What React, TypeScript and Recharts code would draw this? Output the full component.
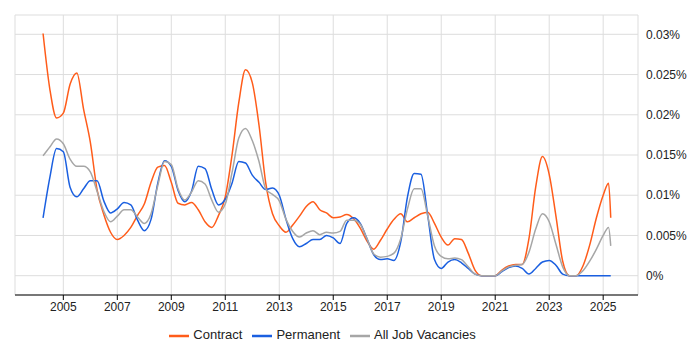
import { LineChart, Line, XAxis, YAxis, CartesianGrid, Legend } from 'recharts';

// quarterly points (fractional year), with a couple of extra points at the end
const periods = [
  2004.25, 2004.5, 2004.75, 2005, 2005.25, 2005.5, 2005.75, 2006, 2006.25, 2006.5, 2006.75,
  2007, 2007.25, 2007.5, 2007.75, 2008, 2008.25, 2008.5, 2008.75, 2009, 2009.25, 2009.5, 2009.75,
  2010, 2010.25, 2010.5, 2010.75, 2011, 2011.25, 2011.5, 2011.75, 2012, 2012.25, 2012.5, 2012.75,
  2013, 2013.25, 2013.5, 2013.75, 2014, 2014.25, 2014.5, 2014.75, 2015, 2015.25, 2015.5, 2015.75,
  2016, 2016.25, 2016.5, 2016.75, 2017, 2017.25, 2017.5, 2017.75, 2018, 2018.25, 2018.5, 2018.75,
  2019, 2019.25, 2019.5, 2019.75, 2020, 2020.25, 2020.5, 2020.75, 2021, 2021.25, 2021.5, 2021.75,
  2022, 2022.25, 2022.5, 2022.75, 2023, 2023.25, 2023.5, 2023.75, 2024, 2024.25, 2024.5, 2024.75,
  2025, 2025.2, 2025.28,
];

// values in %
const contract = [
  0.0301, 0.0232, 0.0196, 0.0202, 0.0238, 0.0252, 0.0207, 0.0166, 0.0107, 0.0076, 0.0054,
  0.0045, 0.005, 0.006, 0.0075, 0.0089, 0.0116, 0.0135, 0.0137, 0.0116, 0.009, 0.0088, 0.0091,
  0.0082, 0.0067, 0.006, 0.0075, 0.0098, 0.015, 0.0215, 0.0256, 0.024, 0.0187, 0.0115, 0.0077,
  0.0062, 0.0054, 0.0063, 0.0074, 0.0086, 0.0092, 0.0082, 0.0078, 0.0072, 0.0073, 0.0076, 0.0071,
  0.0059, 0.0043, 0.0033, 0.0044, 0.0058, 0.007, 0.0077, 0.0067, 0.0072, 0.0077, 0.0079, 0.0065,
  0.0048, 0.0038, 0.0046, 0.0045, 0.0028, 0.0007, 0, 0, 0, 0.0007, 0.0012, 0.0014,
  0.0014, 0.0046, 0.011, 0.0148, 0.0126, 0.0074, 0.0018, 0, 0, 0.0012, 0.0038, 0.0072,
  0.01, 0.0115, 0.0072,
];

const permanent = [
  0.0072, 0.0122, 0.0158, 0.0154, 0.011, 0.0098, 0.0108, 0.0118, 0.0118, 0.0093, 0.0078,
  0.0083, 0.0091, 0.0088, 0.0069, 0.0056, 0.007, 0.0115, 0.0143, 0.0136, 0.0106, 0.0092, 0.0105,
  0.0136, 0.0133, 0.0107, 0.0088, 0.0095, 0.0115, 0.0142, 0.014, 0.0125, 0.0116, 0.0107, 0.0109,
  0.01, 0.007, 0.0046, 0.0036, 0.004, 0.0045, 0.0045, 0.005, 0.0047, 0.004, 0.0065, 0.0072,
  0.0065, 0.0046, 0.0026, 0.002, 0.0021, 0.0019, 0.0042, 0.0098, 0.0127, 0.0126, 0.0075, 0.002,
  0.0009, 0.0017, 0.002, 0.0016, 0.0009, 0.0002, 0, 0, 0, 0.0005, 0.001, 0.0012,
  0.0009, 0.0002, 0.0009, 0.0017, 0.0019, 0.0013, 0.0002, 0, 0, 0, 0, 0,
  0, 0, 0,
];

const allJobs = [
  0.0149, 0.016, 0.017, 0.0164, 0.0145, 0.0136, 0.0136, 0.0129, 0.0105, 0.008, 0.0067,
  0.0074, 0.0082, 0.0082, 0.0073, 0.0065, 0.0077, 0.0112, 0.0142, 0.0138, 0.0108, 0.0094, 0.0104,
  0.0118, 0.0114, 0.0094, 0.0079, 0.0089, 0.0128, 0.0171, 0.0183, 0.0168, 0.0142, 0.0108, 0.0101,
  0.0093, 0.007, 0.0055, 0.0048, 0.0053, 0.0056, 0.0051, 0.0054, 0.0053, 0.0055, 0.0069, 0.0069,
  0.0064, 0.0046, 0.0027, 0.0023, 0.0024, 0.0028, 0.0046, 0.0083, 0.0108, 0.0108, 0.0074, 0.0037,
  0.0024, 0.0021, 0.0022, 0.002, 0.0011, 0.0002, 0, 0, 0, 0.0006, 0.0011, 0.0013,
  0.0014, 0.0029, 0.0058, 0.0077, 0.0067, 0.0039, 0.0011, 0, 0, 0.0006, 0.0018, 0.0033,
  0.005, 0.006, 0.0037,
];

const yearTicks = [2005, 2007, 2009, 2011, 2013, 2015, 2017, 2019, 2021, 2023, 2025];
const pctTicks = [0, 0.005, 0.01, 0.015, 0.02, 0.025, 0.03];
const seriesOrder = ['contract', 'permanent', 'all'];

const data = periods.map((t, i) => ({
  t,
  contract: contract[i],
  permanent: permanent[i],
  all: allJobs[i],
}));

const font = '"Liberation Sans", Arial, sans-serif';

export default function App() {
  return (
    <div style={{ position: 'absolute', left: 0, top: 0, fontFamily: font }}>
      <LineChart width={700} height={350} data={data} margin={{ top: 15, right: 7, bottom: 13, left: 15 }}>
        <CartesianGrid stroke="#dddddd" />
        <XAxis
          dataKey="t"
          type="number"
          domain={[2003.21, 2026.29]}
          ticks={yearTicks}
          allowDataOverflow
          height={22}
          stroke="#000"
          tick={{ fill: '#222', fontSize: 12, fontFamily: font }}
          tickSize={5}
          tickMargin={2}
        />
        <YAxis
          orientation="right"
          type="number"
          domain={[-0.0024, 0.0324]}
          ticks={pctTicks}
          allowDataOverflow
          width={55}
          axisLine={false}
          tickLine={false}
          tick={{ fill: '#222', fontSize: 12, fontFamily: font }}
          tickFormatter={(v) => `${v}%`}
        />
        <Legend
          iconType="plainline"
          iconSize={20}
          itemSorter={(item: any) => seriesOrder.indexOf(item.dataKey)}
          wrapperStyle={{ fontSize: 13, fontFamily: font, color: '#222', bottom: 4, left: 0, width: 655 }}
          formatter={(value) => <span style={{ color: '#222' }}>{value}</span>}
        />
        <Line
          type="monotone"
          dataKey="contract"
          name="Contract"
          stroke="#ff5c1a"
          strokeWidth={1.5}
          dot={false}
          isAnimationActive={false}
        />
        <Line
          type="monotone"
          dataKey="permanent"
          name="Permanent"
          stroke="#1a5fe0"
          strokeWidth={1.5}
          dot={false}
          isAnimationActive={false}
        />
        <Line
          type="monotone"
          dataKey="all"
          name="All Job Vacancies"
          stroke="#a6a6a6"
          strokeWidth={1.5}
          dot={false}
          isAnimationActive={false}
        />
      </LineChart>
    </div>
  );
}
